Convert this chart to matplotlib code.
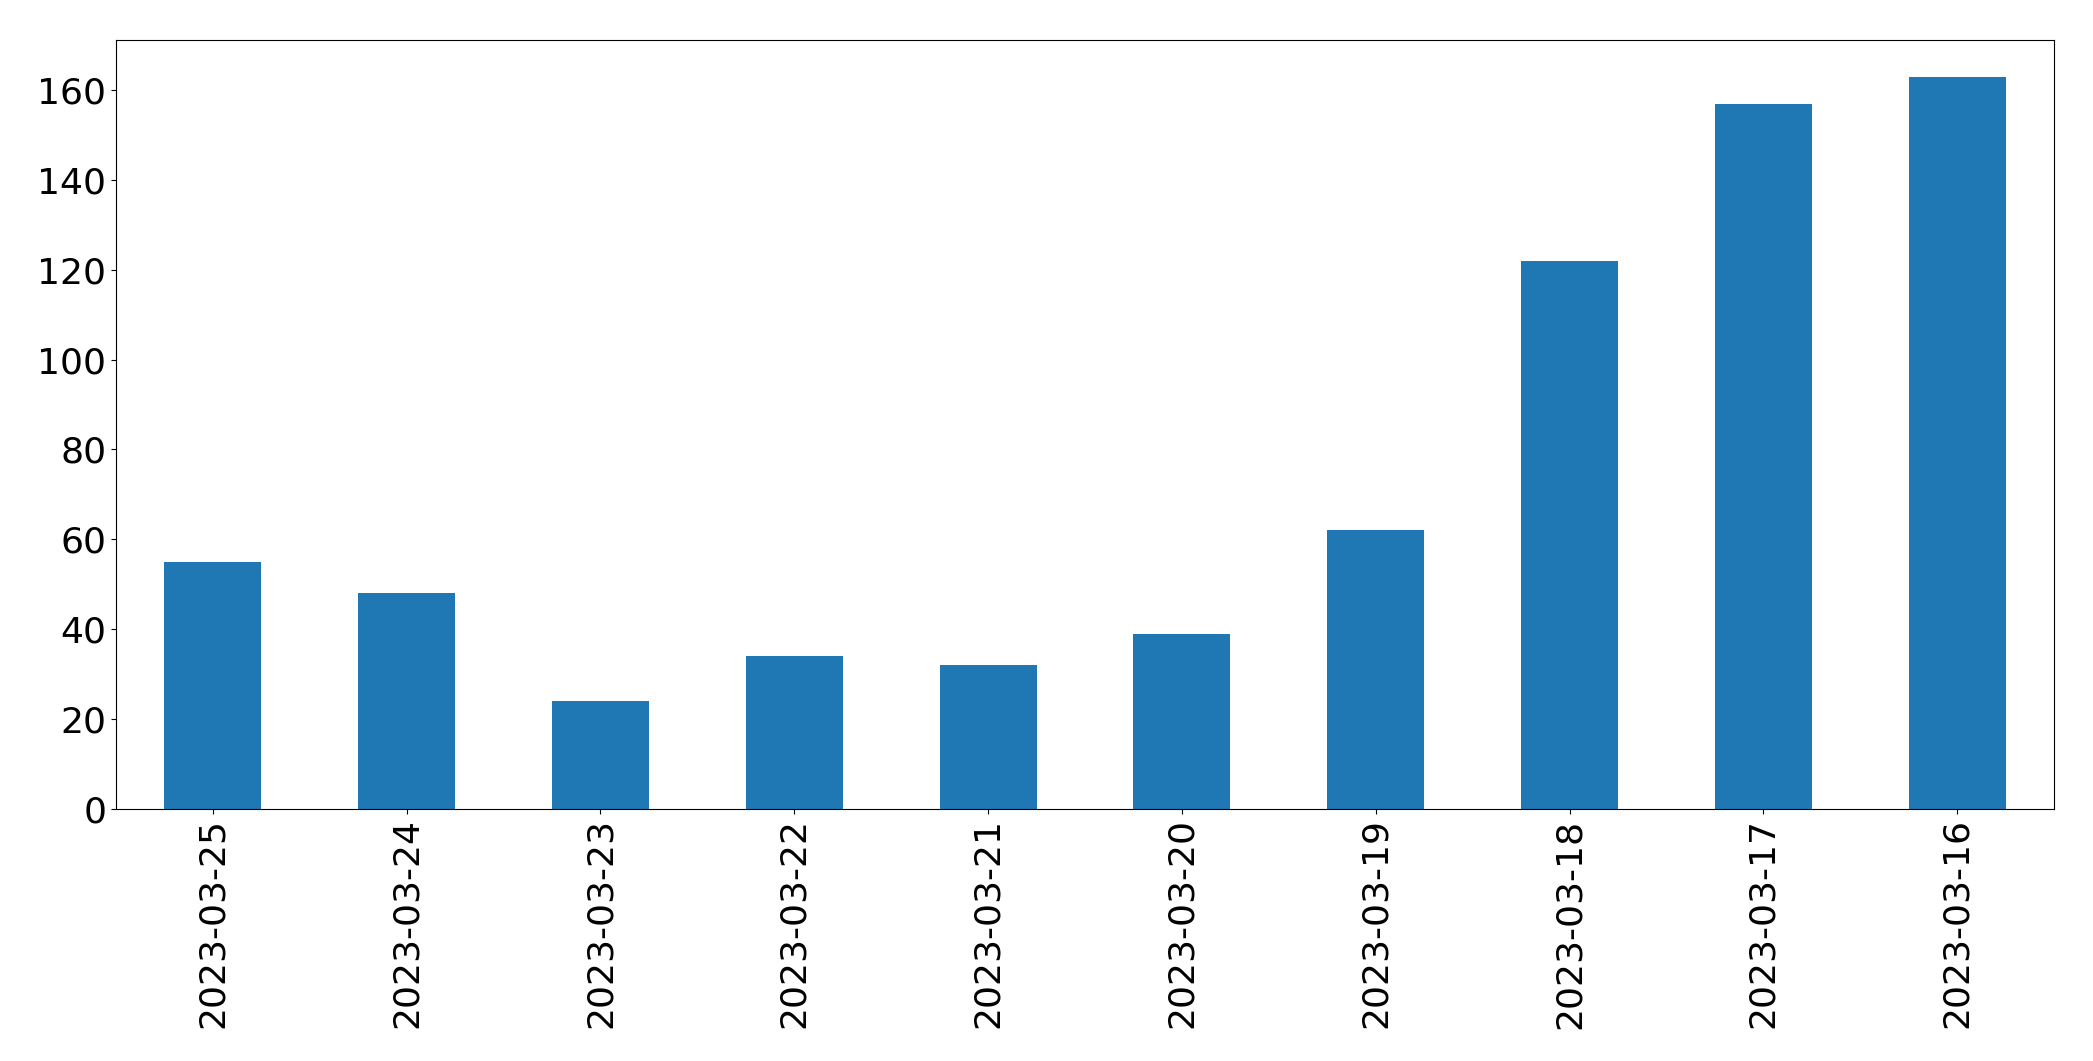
import numpy as np
import matplotlib
matplotlib.use('Agg')
import matplotlib.pyplot as plt

dates = ['2023-03-25', '2023-03-24', '2023-03-23', '2023-03-22', '2023-03-21',
         '2023-03-20', '2023-03-19', '2023-03-18', '2023-03-17', '2023-03-16']
counts = [55, 48, 24, 34, 32, 39, 62, 122, 157, 163]

fig, ax = plt.subplots(figsize=(20.93, 10.61), dpi=100)
fig.subplots_adjust(left=0.0554, right=0.9814, top=0.9623, bottom=0.2378)

index = np.arange(len(dates))
ax.bar(index, counts, 0.5, color='#1f77b4')
ax.set_xlim(-0.5, len(dates) - 0.5)
ax.set_xticks(index)
ax.set_xticklabels(dates, rotation=90)
ax.tick_params(labelsize=26)

plt.savefig('out.png', dpi=100)
